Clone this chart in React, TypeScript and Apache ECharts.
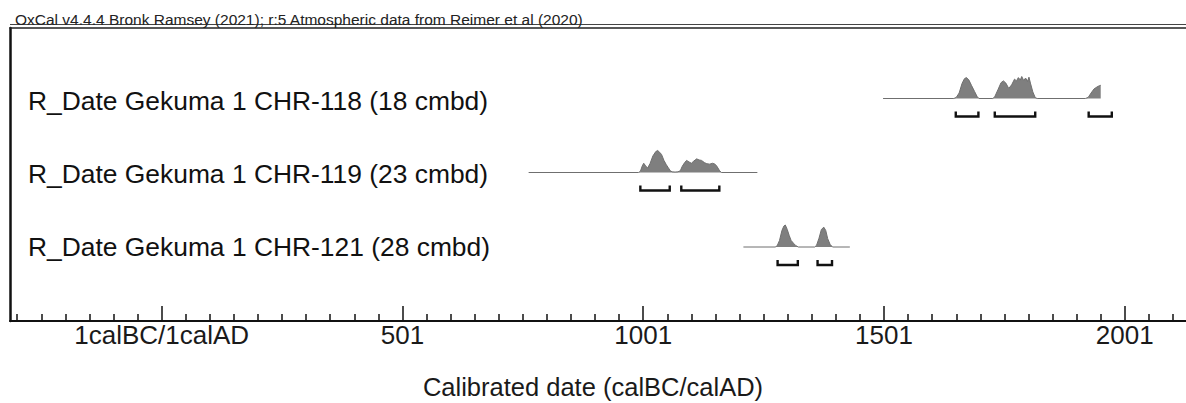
import React, { useEffect, useRef } from 'react';
import * as echarts from 'echarts';

// Header and axis texts
const plotTitle = 'OxCal v4.4.4 Bronk Ramsey (2021); r:5 Atmospheric data from Reimer et al (2020)';
const axisTitle = 'Calibrated date (calBC/calAD)';

// One row per dated sample
const rowLabels = [
  'R_Date Gekuma 1 CHR-118 (18 cmbd)',
  'R_Date Gekuma 1 CHR-119 (23 cmbd)',
  'R_Date Gekuma 1 CHR-121 (28 cmbd)',
];

// Date axis ticks (continuous calendar scale, 0 = 1calBC/1calAD boundary)
const majorTickDates = [0, 500, 1000, 1500, 2000];
const majorTickLabels = ['1calBC/1calAD', '501', '1001', '1501', '2001'];
const minorTickStep = 50;
const dateMin = -315;
const dateMax = 2260;

// Calibrated probability distributions: [date, relative probability]
const chr118: [number, number][] = [
  [1498, 0], [1645, 0], [1650, 0.05], [1656, 0.25], [1662, 0.68], [1667, 0.9], [1671, 0.95],
  [1676, 0.85], [1682, 0.58], [1688, 0.32], [1693, 0.1], [1697, 0], [1726, 0], [1730, 0.08],
  [1737, 0.42], [1743, 0.72], [1748, 0.8], [1753, 0.7], [1759, 0.46], [1765, 0.62], [1771, 0.88],
  [1775, 0.8], [1779, 0.95], [1783, 0.84], [1786, 1.0], [1790, 0.82], [1794, 0.93], [1798, 0.78],
  [1801, 0.97], [1804, 0.7], [1809, 0.3], [1814, 0.04], [1818, 0], [1918, 0], [1924, 0.05],
  [1930, 0.25], [1936, 0.43], [1942, 0.52], [1947, 0.58], [1950, 0.6],
];
const chr119: [number, number][] = [
  [762, 0], [990, 0], [994, 0.05], [998, 0.3], [1001, 0.42], [1005, 0.3], [1009, 0.2], [1014, 0.4],
  [1020, 0.75], [1026, 0.95], [1030, 1.0], [1034, 0.92], [1038, 0.82], [1043, 0.55], [1048, 0.35],
  [1052, 0.22], [1056, 0.08], [1060, 0.03], [1066, 0.02], [1072, 0.03], [1077, 0.08], [1081, 0.28],
  [1086, 0.45], [1090, 0.55], [1095, 0.48], [1100, 0.42], [1105, 0.52], [1111, 0.62], [1116, 0.57],
  [1121, 0.55], [1127, 0.45], [1132, 0.4], [1138, 0.38], [1144, 0.42], [1149, 0.38], [1153, 0.28],
  [1158, 0.1], [1162, 0], [1237, 0],
];
const chr121: [number, number][] = [
  [1208, 0], [1274, 0], [1278, 0.05], [1283, 0.3], [1288, 0.75], [1292, 0.95], [1295, 1.0],
  [1299, 0.8], [1303, 0.53], [1307, 0.3], [1312, 0.17], [1317, 0.06], [1322, 0], [1356, 0],
  [1360, 0.08], [1365, 0.4], [1370, 0.8], [1375, 0.9], [1379, 0.75], [1383, 0.38], [1388, 0.12],
  [1393, 0], [1429, 0],
];

// Highest posterior density ranges, drawn as brackets under each distribution
const chr118Ranges: [number, number][] = [[1649, 1696], [1730, 1814], [1925, 1973]];
const chr119Ranges: [number, number][] = [[994, 1055], [1079, 1158]];
const chr121Ranges: [number, number][] = [[1279, 1321], [1362, 1392]];

const distributions = [chr118, chr119, chr121];
const ranges = [chr118Ranges, chr119Ranges, chr121Ranges];

const FONT = '"Liberation Sans", Arial, Helvetica, sans-serif';

export default function App() {
  const ref = useRef<HTMLDivElement>(null);

  useEffect(() => {
    if (!ref.current) return;
    const chart = echarts.init(ref.current, undefined, { renderer: 'svg' });

    // The plotting frame runs past the right edge of the page
    const left = 10;
    const width = 1240;
    const baselines = [98.5, 172.5, 247];
    const peakHeight = 22;
    const bracketDrop = 18;
    const bracketRise = 5;

    const minorTicks: number[] = [];
    for (let v = Math.ceil(dateMin / minorTickStep) * minorTickStep; v <= dateMax; v += minorTickStep) {
      if (!majorTickDates.includes(v)) minorTicks.push(v);
    }

    const gridBase = { left, width, show: false, containLabel: false, outerBoundsMode: 'none' };
    const grids: any[] = [
      { ...gridBase, top: 28, height: 293 },
      ...baselines.map((b) => ({ ...gridBase, top: b - peakHeight, height: peakHeight })),
      { ...gridBase, top: 64, height: 219 },
    ];

    const hiddenX = (gridIndex: number) => ({
      type: 'value', gridIndex, min: dateMin, max: dateMax, show: false,
    });

    const xAxes: any[] = [
      {
        type: 'value', gridIndex: 0, position: 'bottom', min: dateMin, max: dateMax,
        axisLine: { show: true, onZero: false, lineStyle: { color: '#111', width: 2 } },
        axisTick: { show: true, inside: true, length: 15, customValues: majorTickDates, lineStyle: { color: '#111', width: 1.5 } },
        axisLabel: {
          show: true, customValues: majorTickDates, margin: 1,
          fontFamily: FONT, fontSize: 26, color: '#1a1a1a',
          formatter: (v: number) => {
            const i = majorTickDates.indexOf(v);
            return i >= 0 ? majorTickLabels[i] : '';
          },
        },
        splitLine: { show: false },
      },
      {
        type: 'value', gridIndex: 0, position: 'bottom', min: dateMin, max: dateMax,
        axisLine: { show: false, onZero: false },
        axisTick: { show: true, inside: true, length: 7, customValues: minorTicks, lineStyle: { color: '#111', width: 1.5 } },
        axisLabel: { show: false },
        splitLine: { show: false },
      },
      {
        type: 'value', gridIndex: 0, position: 'top', min: dateMin, max: dateMax,
        axisLine: { show: true, onZero: false, lineStyle: { color: '#222', width: 1.5 } },
        axisTick: { show: false }, axisLabel: { show: false }, splitLine: { show: false },
      },
      hiddenX(1), hiddenX(2), hiddenX(3), hiddenX(4),
    ];

    const yAxes: any[] = [
      {
        type: 'value', gridIndex: 0, min: 0, max: 1, position: 'left',
        axisLine: { show: true, onZero: false, lineStyle: { color: '#111', width: 2.5 } },
        axisTick: { show: false }, axisLabel: { show: false }, splitLine: { show: false },
      },
      ...baselines.map((_, i) => ({ type: 'value', gridIndex: i + 1, min: 0, max: 1, show: false })),
      {
        type: 'category', gridIndex: 4, inverse: true, data: rowLabels,
        axisLine: { show: false, onZero: false }, axisTick: { show: false }, splitLine: { show: false },
        axisLabel: { show: true, inside: true, margin: 18, fontFamily: FONT, fontSize: 26.4, color: '#111' },
      },
    ];

    const series: any[] = [];
    distributions.forEach((data, i) => {
      series.push({
        type: 'line', xAxisIndex: 3 + i, yAxisIndex: 1 + i, data,
        symbol: 'none', silent: true, clip: false,
        lineStyle: { color: '#6f6f6f', width: 1 },
        areaStyle: { color: '#7f7f7f', opacity: 1 },
      });
    });
    ranges.forEach((data, i) => {
      series.push({
        type: 'custom', xAxisIndex: 3 + i, yAxisIndex: 1 + i, data, silent: true,
        encode: { x: [0, 1] },
        renderItem: (_p: any, api: any) => {
          const s = api.coord([api.value(0), 0]);
          const e = api.coord([api.value(1), 0]);
          const y = s[1] + bracketDrop;
          return {
            type: 'polyline',
            shape: { points: [[s[0], y - bracketRise], [s[0], y], [e[0], y], [e[0], y - bracketRise]] },
            style: { stroke: '#111', lineWidth: 2.4, fill: null },
          };
        },
      });
    });

    chart.setOption({
      animation: false,
      backgroundColor: '#ffffff',
      title: [
        {
          text: plotTitle, left: 10, top: 6,
          textStyle: { fontFamily: FONT, fontSize: 15.5, fontWeight: 'normal', color: '#222' },
        },
        {
          text: axisTitle, left: 'center', top: 369,
          textStyle: { fontFamily: FONT, fontSize: 25.5, fontWeight: 'normal', color: '#1a1a1a' },
        },
      ],
      graphic: [
        {
          type: 'line', silent: true,
          shape: { x1: 10, y1: 24.5, x2: 1186, y2: 24.5 },
          style: { stroke: '#444', lineWidth: 1 },
        },
      ],
      grid: grids,
      xAxis: xAxes,
      yAxis: yAxes,
      series,
    });

    return () => chart.dispose();
  }, []);

  return (
    <div
      ref={ref}
      style={{ position: 'fixed', left: 0, top: 0, width: 1186, height: 403, background: '#fff' }}
    />
  );
}
